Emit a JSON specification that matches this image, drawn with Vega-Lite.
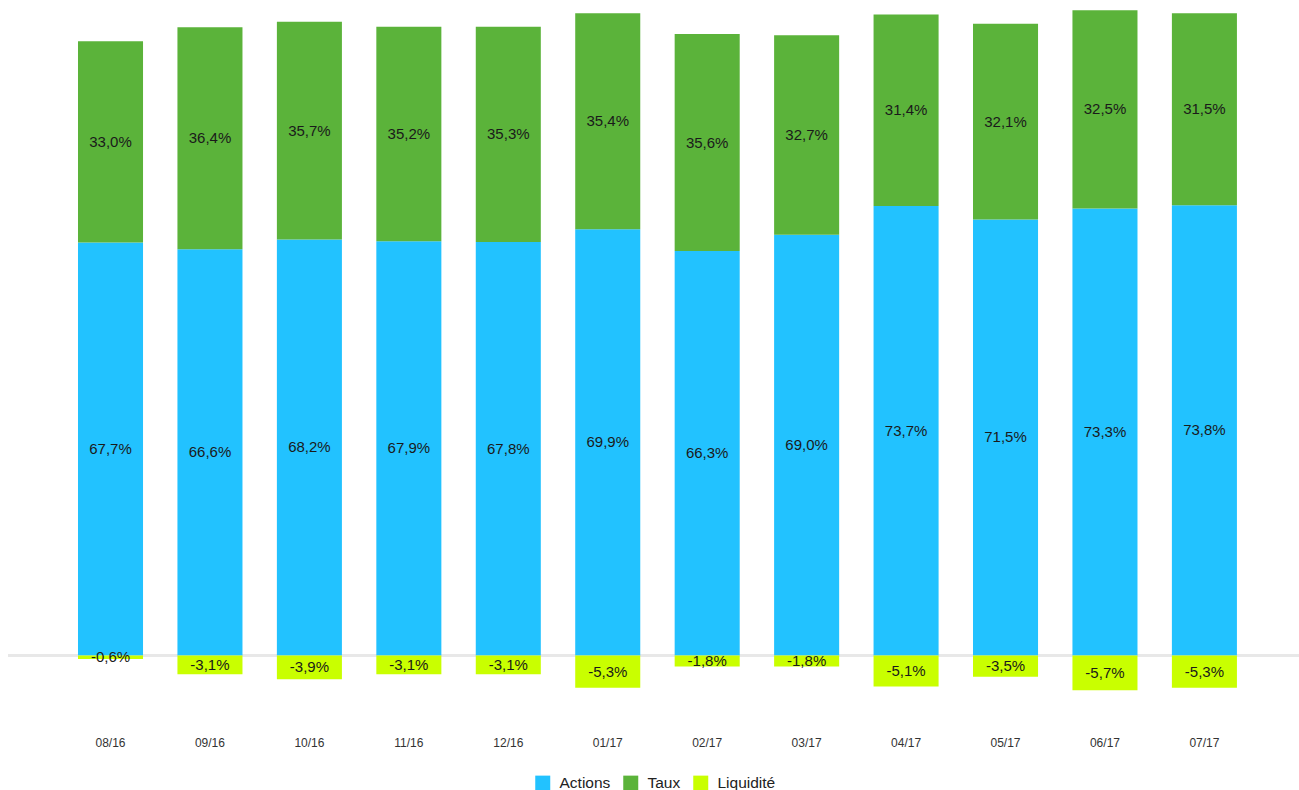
{
  "$schema": "https://vega.github.io/schema/vega-lite/v6.json",
  "width": 1291,
  "height": 683,
  "autosize": {"type": "none"},
  "padding": {"left": 8, "top": 9, "right": 0, "bottom": 98},
  "background": "#ffffff",
  "config": {
    "view": {"stroke": null},
    "font": "Liberation Sans",
    "locale": {"number": {"decimal": ",", "thousands": " ", "grouping": [3], "currency": ["", " €"], "minus": "-"}}
  },
  "data": {"values": [
    {"month": "08/16", "series": "Actions", "ord": 1, "value": 0.677},
    {"month": "08/16", "series": "Taux", "ord": 2, "value": 0.330},
    {"month": "08/16", "series": "Liquidité", "ord": 3, "value": -0.006},
    {"month": "09/16", "series": "Actions", "ord": 1, "value": 0.666},
    {"month": "09/16", "series": "Taux", "ord": 2, "value": 0.364},
    {"month": "09/16", "series": "Liquidité", "ord": 3, "value": -0.031},
    {"month": "10/16", "series": "Actions", "ord": 1, "value": 0.682},
    {"month": "10/16", "series": "Taux", "ord": 2, "value": 0.357},
    {"month": "10/16", "series": "Liquidité", "ord": 3, "value": -0.039},
    {"month": "11/16", "series": "Actions", "ord": 1, "value": 0.679},
    {"month": "11/16", "series": "Taux", "ord": 2, "value": 0.352},
    {"month": "11/16", "series": "Liquidité", "ord": 3, "value": -0.031},
    {"month": "12/16", "series": "Actions", "ord": 1, "value": 0.678},
    {"month": "12/16", "series": "Taux", "ord": 2, "value": 0.353},
    {"month": "12/16", "series": "Liquidité", "ord": 3, "value": -0.031},
    {"month": "01/17", "series": "Actions", "ord": 1, "value": 0.699},
    {"month": "01/17", "series": "Taux", "ord": 2, "value": 0.354},
    {"month": "01/17", "series": "Liquidité", "ord": 3, "value": -0.053},
    {"month": "02/17", "series": "Actions", "ord": 1, "value": 0.663},
    {"month": "02/17", "series": "Taux", "ord": 2, "value": 0.356},
    {"month": "02/17", "series": "Liquidité", "ord": 3, "value": -0.018},
    {"month": "03/17", "series": "Actions", "ord": 1, "value": 0.690},
    {"month": "03/17", "series": "Taux", "ord": 2, "value": 0.327},
    {"month": "03/17", "series": "Liquidité", "ord": 3, "value": -0.018},
    {"month": "04/17", "series": "Actions", "ord": 1, "value": 0.737},
    {"month": "04/17", "series": "Taux", "ord": 2, "value": 0.314},
    {"month": "04/17", "series": "Liquidité", "ord": 3, "value": -0.051},
    {"month": "05/17", "series": "Actions", "ord": 1, "value": 0.715},
    {"month": "05/17", "series": "Taux", "ord": 2, "value": 0.321},
    {"month": "05/17", "series": "Liquidité", "ord": 3, "value": -0.035},
    {"month": "06/17", "series": "Actions", "ord": 1, "value": 0.733},
    {"month": "06/17", "series": "Taux", "ord": 2, "value": 0.325},
    {"month": "06/17", "series": "Liquidité", "ord": 3, "value": -0.057},
    {"month": "07/17", "series": "Actions", "ord": 1, "value": 0.738},
    {"month": "07/17", "series": "Taux", "ord": 2, "value": 0.315},
    {"month": "07/17", "series": "Liquidité", "ord": 3, "value": -0.053}
  ]},
  "transform": [
    {"stack": "value", "groupby": ["month"], "sort": [{"field": "ord", "order": "ascending"}], "as": ["v0", "v1"]},
    {"calculate": "(datum.v0 + datum.v1) / 2", "as": "mid"}
  ],
  "encoding": {
    "x": {
      "field": "month", "type": "nominal", "sort": null,
      "scale": {"paddingInner": 0.346, "paddingOuter": 0.664, "align": 0.53},
      "axis": {"title": null, "domain": false, "ticks": false, "labelAngle": 0, "labelPadding": 45, "labelFontSize": 12, "labelColor": "#333333", "labelFont": "Liberation Sans"}
    }
  },
  "layer": [
    {
      "mark": {"type": "rule", "color": "#e8e8e8", "strokeWidth": 2},
      "encoding": {"y": {"datum": 0, "type": "quantitative", "scale": {"domain": [-0.06, 1.06], "nice": false, "zero": false}, "axis": null}, "x": {"value": 0}, "x2": {"value": 1291}}
    },
    {
      "mark": {"type": "bar"},
      "encoding": {
        "y": {"field": "v0", "type": "quantitative", "scale": {"domain": [-0.06, 1.06], "nice": false, "zero": false}, "axis": null},
        "y2": {"field": "v1"},
        "color": {
          "field": "series", "type": "nominal",
          "scale": {"domain": ["Actions", "Taux", "Liquidité"], "range": ["#22C2FF", "#5BB33A", "#C9FF00"]},
          "legend": {
            "title": null, "orient": "none", "direction": "horizontal", "legendX": 527, "legendY": 766,
            "symbolType": "square", "symbolSize": 225, "symbolStrokeWidth": 0, "symbolOpacity": 1,
            "labelFontSize": 15.5, "labelColor": "#222222", "labelFont": "Liberation Sans",
            "labelOffset": 9, "columnPadding": 12
          }
        }
      }
    },
    {
      "mark": {"type": "text", "fontSize": 15, "color": "#1a1a1a", "baseline": "middle", "align": "center", "font": "Liberation Sans"},
      "encoding": {
        "y": {"field": "mid", "type": "quantitative"},
        "text": {"field": "value", "type": "quantitative", "format": ".1%"}
      }
    }
  ]
}
